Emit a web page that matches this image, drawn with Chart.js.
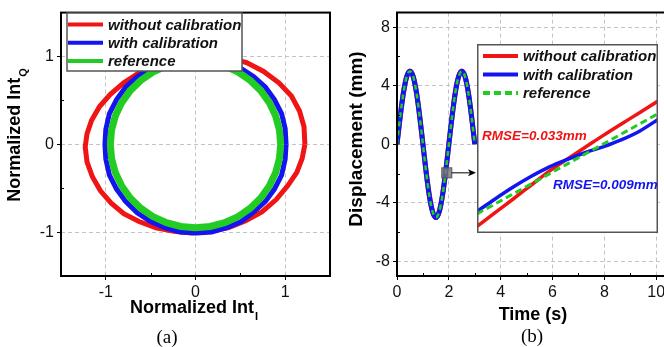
<!DOCTYPE html>
<html>
<head>
<meta charset="utf-8">
<script src="https://cdn.jsdelivr.net/npm/chart.js@4.4.1/dist/chart.umd.min.js"></script>
<style>
  html, body { margin: 0; padding: 0; background: #fff; overflow: hidden; width: 664px; height: 347px; }
  .panel { position: absolute; }
</style>
</head>
<body>
<div class="panel" style="left:0;top:0"><canvas id="chartA" width="335" height="347"></canvas></div>
<div class="panel" style="left:330px;top:0"><canvas id="chartB" width="345" height="347"></canvas></div>
<div class="panel" id="insetBox"><canvas id="chartInset" width="181" height="189"></canvas></div>
<script>
// ---- data ----
const legendLabels = ['without calibration', 'with calibration', 'reference'];

// (a) I/Q rings, one point every 10 degrees, first point repeated to close
const intIWithout = [1.22, 1.21, 1.16, 1.07, 0.93, 0.76, 0.57, 0.38, 0.18, -0.02, -0.22, -0.42, -0.62, -0.80, -0.95, -1.07, -1.16, -1.21, -1.23, -1.21, -1.15, -1.06, -0.94, -0.80, -0.63, -0.44, -0.24, -0.04, 0.16, 0.37, 0.56, 0.74, 0.90, 1.03, 1.13, 1.19, 1.22];
const intQWithout = [0.00, 0.20, 0.38, 0.55, 0.70, 0.83, 0.93, 0.98, 1.00, 0.99, 0.95, 0.90, 0.82, 0.70, 0.57, 0.43, 0.27, 0.12, -0.03, -0.20, -0.37, -0.53, -0.67, -0.79, -0.88, -0.95, -0.99, -1.01, -0.99, -0.95, -0.87, -0.77, -0.63, -0.47, -0.32, -0.16, 0.00];
const intIWith = [1.01, 1.00, 0.96, 0.88, 0.78, 0.65, 0.50, 0.34, 0.17, 0.00, -0.17, -0.34, -0.50, -0.65, -0.78, -0.88, -0.96, -1.00, -1.01, -1.00, -0.96, -0.88, -0.78, -0.65, -0.50, -0.34, -0.17, 0.01, 0.18, 0.35, 0.51, 0.65, 0.78, 0.88, 0.96, 1.00, 1.01];
const intQWith = [0.00, 0.18, 0.35, 0.51, 0.65, 0.77, 0.87, 0.94, 0.98, 0.99, 0.97, 0.93, 0.86, 0.77, 0.65, 0.51, 0.35, 0.17, 0.00, -0.17, -0.35, -0.51, -0.65, -0.78, -0.88, -0.95, -1.00, -1.01, -1.00, -0.95, -0.88, -0.77, -0.65, -0.51, -0.35, -0.17, 0.00];
const intIRef = [0.95, 0.936, 0.893, 0.823, 0.728, 0.611, 0.475, 0.325, 0.165, 0, -0.165, -0.325, -0.475, -0.611, -0.728, -0.823, -0.893, -0.936, -0.95, -0.936, -0.893, -0.823, -0.728, -0.611, -0.475, -0.325, -0.165, 0, 0.165, 0.325, 0.475, 0.611, 0.728, 0.823, 0.893, 0.936, 0.95];
const intQRef = [0, 0.165, 0.325, 0.475, 0.611, 0.728, 0.823, 0.893, 0.936, 0.95, 0.936, 0.893, 0.823, 0.728, 0.611, 0.475, 0.325, 0.165, 0, -0.165, -0.325, -0.475, -0.611, -0.728, -0.823, -0.893, -0.936, -0.95, -0.936, -0.893, -0.823, -0.728, -0.611, -0.475, -0.325, -0.165, 0];
const intTicks = [-1, 0, 1];
const intMinor = [-0.5, 0.5];

// (b) displacement vs time
const timeS = [0, 0.125, 0.25, 0.375, 0.5, 0.625, 0.75, 0.875, 1, 1.125, 1.25, 1.375, 1.5, 1.625, 1.75, 1.875, 2, 2.125, 2.25, 2.375, 2.5, 2.625, 2.75, 2.875, 3];
const dispWithout = [0, 1.92, 3.55, 4.63, 5.01, 4.63, 3.55, 1.92, 0, -1.92, -3.55, -4.63, -5.01, -4.63, -3.55, -1.92, 0, 1.92, 3.55, 4.63, 5.01, 4.63, 3.55, 1.92, 0];
const dispWith = [0, 1.91, 3.54, 4.62, 5, 4.62, 3.54, 1.91, 0, -1.91, -3.54, -4.62, -5, -4.62, -3.54, -1.91, 0, 1.91, 3.54, 4.62, 5, 4.62, 3.54, 1.91, 0];
const dispRef = [0, 1.91, 3.54, 4.62, 5, 4.62, 3.54, 1.91, 0, -1.91, -3.54, -4.62, -5, -4.62, -3.54, -1.91, 0, 1.91, 3.54, 4.62, 5, 4.62, 3.54, 1.91, 0];
const timeTicks = [0, 2, 4, 6, 8, 10];
const timeMinor = [1, 3, 5, 7, 9];
const dispTicks = [-8, -4, 0, 4, 8];
const dispMinor = [-6, -2, 2, 6];
const zoomAt = { t: 1.92, d: -1.95 };

// inset: zoomed segment, both axes normalised 0..1
const insetX = [0, 0.1, 0.2, 0.3, 0.4, 0.5, 0.6, 0.7, 0.8, 0.9, 1];
const insetWithout = [0.035, 0.108, 0.18, 0.254, 0.327, 0.392, 0.455, 0.518, 0.578, 0.638, 0.698];
const insetWith = [0.114, 0.18, 0.243, 0.30, 0.35, 0.39, 0.426, 0.457, 0.494, 0.54, 0.601];
const insetRef = [0.101, 0.154, 0.207, 0.26, 0.313, 0.366, 0.419, 0.472, 0.525, 0.578, 0.631];
const rmseWithout = 'RMSE=0.033mm';
const rmseWith = 'RMSE=0.009mm';

// ---- styles ----
const SANS = '"Liberation Sans", Arial, sans-serif';
const SERIF = '"Liberation Serif", "Times New Roman", serif';
const RED = '#f01414';
const BLUE = '#1414f0';
const GREEN = '#22cc22';
const INSET = { left: 477, top: 44, width: 181, height: 189 };
const PANEL_B_LEFT = 330;

const box = document.getElementById('insetBox');
box.style.left = INSET.left + 'px';
box.style.top = INSET.top + 'px';

function pts(xs, ys) {
  return xs.map((x, i) => ({ x: x, y: ys[i] }));
}

function axis(min, max, tickVals, size, horizontal) {
  return {
    type: 'linear',
    min: min,
    max: max,
    afterBuildTicks: (s) => { s.ticks = tickVals.map((v) => ({ value: v })); },
    afterFit: (s) => { if (horizontal) s.height = size; else s.width = size; },
    grid: { color: '#c4c4c4', lineWidth: 1, tickColor: '#000', tickLength: 4 },
    border: { display: false, dash: [4, 3] },
    ticks: { color: '#111', font: { family: SANS, size: 16 }, padding: 3, maxRotation: 0, autoSkip: false }
  };
}

function subText(ctx, main, sub, cx, cy, size, rotate) {
  ctx.save();
  ctx.translate(cx, cy);
  if (rotate) ctx.rotate(-Math.PI / 2);
  ctx.fillStyle = '#000';
  ctx.textBaseline = 'middle';
  ctx.textAlign = 'left';
  ctx.font = 'bold ' + size + 'px ' + SANS;
  const w1 = ctx.measureText(main).width;
  ctx.font = 'bold 11px ' + SANS;
  const w2 = sub ? ctx.measureText(sub).width + 1 : 0;
  const x0 = -(w1 + w2) / 2;
  ctx.font = 'bold ' + size + 'px ' + SANS;
  ctx.fillText(main, x0, 0);
  if (sub) {
    ctx.font = 'bold 11px ' + SANS;
    ctx.fillText(sub, x0 + w1 + 1, 9);
  }
  ctx.restore();
}

function caption(ctx, text, cx, cy) {
  ctx.save();
  ctx.fillStyle = '#000';
  ctx.font = '19px ' + SERIF;
  ctx.textAlign = 'center';
  ctx.textBaseline = 'middle';
  ctx.fillText(text, cx, cy);
  ctx.restore();
}

function minorTicks(ctx, a, xs, ys, xVals, yVals) {
  ctx.strokeStyle = '#000';
  ctx.lineWidth = 1;
  ctx.beginPath();
  xVals.forEach((v) => {
    const px = Math.round(xs.getPixelForValue(v)) + 0.5;
    ctx.moveTo(px, a.bottom);
    ctx.lineTo(px, a.bottom - 3);
  });
  yVals.forEach((v) => {
    const py = Math.round(ys.getPixelForValue(v)) + 0.5;
    ctx.moveTo(a.left, py);
    ctx.lineTo(a.left + 3, py);
  });
  ctx.stroke();
}

function legendRows(ctx, datasets, lineX0, lineX1, textX, rowsY) {
  ctx.save();
  ctx.font = 'italic bold 15px ' + SANS;
  ctx.textBaseline = 'middle';
  ctx.textAlign = 'left';
  datasets.forEach((ds, i) => {
    const y = rowsY[i];
    ctx.strokeStyle = ds.borderColor;
    ctx.lineWidth = 4;
    ctx.setLineDash(ds.borderDash || []);
    ctx.beginPath();
    ctx.moveTo(lineX0, y);
    ctx.lineTo(lineX1, y);
    ctx.stroke();
    ctx.setLineDash([]);
    ctx.fillStyle = '#111';
    ctx.fillText(ds.label, textX, y + 1);
  });
  ctx.restore();
}

// ---- panel (a) ----
const panelAPlugin = {
  id: 'panelA',
  afterDatasetsDraw(chart) {
    const { ctx, chartArea: a, scales } = chart;
    ctx.save();
    minorTicks(ctx, a, scales.x, scales.y, intMinor, intMinor);
    ctx.strokeStyle = '#000';
    ctx.lineWidth = 2;
    ctx.strokeRect(a.left, a.top, a.right - a.left, a.bottom - a.top);

    // legend box
    ctx.fillStyle = '#fff';
    ctx.fillRect(67, 13, 175, 58);
    ctx.strokeStyle = '#555';
    ctx.lineWidth = 1.5;
    ctx.strokeRect(67, 13, 175, 58);
    ctx.restore();
    legendRows(ctx, chart.data.datasets, 68, 103, 108, [24.5, 42.7, 61]);

    subText(ctx, 'Normalized Int', 'I', 194, 308, 18, false);
    subText(ctx, 'Normalized Int', 'Q', 15, 135, 18, true);
    caption(ctx, '(a)', 167, 338);
  }
};

new Chart(document.getElementById('chartA'), {
  type: 'scatter',
  data: {
    datasets: [
      { label: legendLabels[0], data: pts(intIWithout, intQWithout), borderColor: RED, borderWidth: 5, showLine: true, pointRadius: 0, order: 3 },
      { label: legendLabels[1], data: pts(intIWith, intQWith), borderColor: BLUE, borderWidth: 5, showLine: true, pointRadius: 0, order: 2 },
      { label: legendLabels[2], data: pts(intIRef, intQRef), borderColor: GREEN, borderWidth: 7, showLine: true, pointRadius: 0, order: 1 }
    ]
  },
  options: {
    responsive: false,
    animation: false,
    layout: { padding: { top: 7, right: 5, left: 0, bottom: 0 } },
    plugins: { legend: { display: false }, tooltip: { enabled: false } },
    scales: {
      x: axis(-1.5, 1.5, intTicks, 71, true),
      y: axis(-1.5, 1.5, intTicks, 61, false)
    }
  },
  plugins: [panelAPlugin]
});

// ---- panel (b) ----
const panelBPlugin = {
  id: 'panelB',
  afterDatasetsDraw(chart) {
    const { ctx, chartArea: a, scales } = chart;
    ctx.save();
    minorTicks(ctx, a, scales.x, scales.y, timeMinor, dispMinor);
    ctx.strokeStyle = '#000';
    ctx.lineWidth = 2;
    ctx.beginPath();
    ctx.moveTo(chart.width, a.top);
    ctx.lineTo(a.left, a.top);
    ctx.lineTo(a.left, a.bottom);
    ctx.lineTo(chart.width, a.bottom);
    ctx.stroke();

    // zoom marker and arrow to the inset
    const bx = scales.x.getPixelForValue(zoomAt.t);
    const by = scales.y.getPixelForValue(zoomAt.d);
    ctx.fillStyle = 'rgba(115,115,115,0.8)';
    ctx.fillRect(bx - 5, by - 5, 10, 10);
    ctx.strokeStyle = '#555';
    ctx.lineWidth = 1;
    ctx.strokeRect(bx - 5, by - 5, 10, 10);
    const tip = INSET.left - PANEL_B_LEFT - 1;
    ctx.strokeStyle = '#000';
    ctx.beginPath();
    ctx.moveTo(bx + 5, by);
    ctx.lineTo(tip - 5, by);
    ctx.stroke();
    ctx.fillStyle = '#000';
    ctx.beginPath();
    ctx.moveTo(tip, by);
    ctx.lineTo(tip - 8, by - 3.5);
    ctx.lineTo(tip - 6, by);
    ctx.lineTo(tip - 8, by + 3.5);
    ctx.closePath();
    ctx.fill();
    ctx.restore();

    subText(ctx, 'Time (s)', '', 203, 315, 18, false);
    subText(ctx, 'Displacement (mm)', '', 27, 139, 19, true);
    caption(ctx, '(b)', 202, 337);
  }
};

new Chart(document.getElementById('chartB'), {
  type: 'scatter',
  data: {
    datasets: [
      { label: legendLabels[0], data: pts(timeS, dispWithout), borderColor: RED, borderWidth: 5, showLine: true, pointRadius: 0, cubicInterpolationMode: 'monotone', order: 3 },
      { label: legendLabels[1], data: pts(timeS, dispWith), borderColor: BLUE, borderWidth: 5, showLine: true, pointRadius: 0, cubicInterpolationMode: 'monotone', order: 2 },
      { label: legendLabels[2], data: pts(timeS, dispRef), borderColor: GREEN, borderWidth: 2.5, borderDash: [5, 4], showLine: true, pointRadius: 0, cubicInterpolationMode: 'monotone', order: 1 }
    ]
  },
  options: {
    responsive: false,
    animation: false,
    layout: { padding: { top: 7, right: 12, left: 0, bottom: 0 } },
    plugins: { legend: { display: false }, tooltip: { enabled: false } },
    scales: {
      x: axis(0, 10.26, timeTicks, 71, true),
      y: axis(-9, 9, dispTicks, 67, false)
    }
  },
  plugins: [panelBPlugin]
});

// ---- inset ----
const insetPlugin = {
  id: 'inset',
  beforeDraw(chart) {
    const ctx = chart.ctx;
    ctx.save();
    ctx.fillStyle = '#fff';
    ctx.fillRect(0, 0, chart.width, chart.height);
    ctx.restore();
  },
  afterDatasetsDraw(chart) {
    const ctx = chart.ctx;
    ctx.save();
    ctx.strokeStyle = '#555';
    ctx.lineWidth = 1.5;
    ctx.strokeRect(0.75, 0.75, chart.width - 1.5, chart.height - 1.5);
    ctx.restore();
    legendRows(ctx, chart.data.datasets, 6, 41, 46, [12, 30.5, 49]);

    ctx.save();
    ctx.font = 'italic bold 13.5px ' + SANS;
    ctx.textBaseline = 'middle';
    ctx.textAlign = 'left';
    ctx.fillStyle = RED;
    ctx.fillText(rmseWithout, 5, 92);
    ctx.fillStyle = BLUE;
    ctx.fillText(rmseWith, 76, 141);
    ctx.restore();
  }
};

new Chart(document.getElementById('chartInset'), {
  type: 'scatter',
  data: {
    datasets: [
      { label: legendLabels[0], data: pts(insetX, insetWithout), borderColor: RED, borderWidth: 3.5, showLine: true, pointRadius: 0, cubicInterpolationMode: 'monotone', order: 3 },
      { label: legendLabels[1], data: pts(insetX, insetWith), borderColor: BLUE, borderWidth: 3.5, showLine: true, pointRadius: 0, cubicInterpolationMode: 'monotone', order: 2 },
      { label: legendLabels[2], data: pts(insetX, insetRef), borderColor: GREEN, borderWidth: 3, borderDash: [7, 4], showLine: true, pointRadius: 0, order: 1 }
    ]
  },
  options: {
    responsive: false,
    animation: false,
    layout: { padding: 0 },
    plugins: { legend: { display: false }, tooltip: { enabled: false } },
    scales: {
      x: { type: 'linear', min: 0, max: 1, display: false },
      y: { type: 'linear', min: 0, max: 1, display: false }
    }
  },
  plugins: [insetPlugin]
});
</script>
</body>
</html>
